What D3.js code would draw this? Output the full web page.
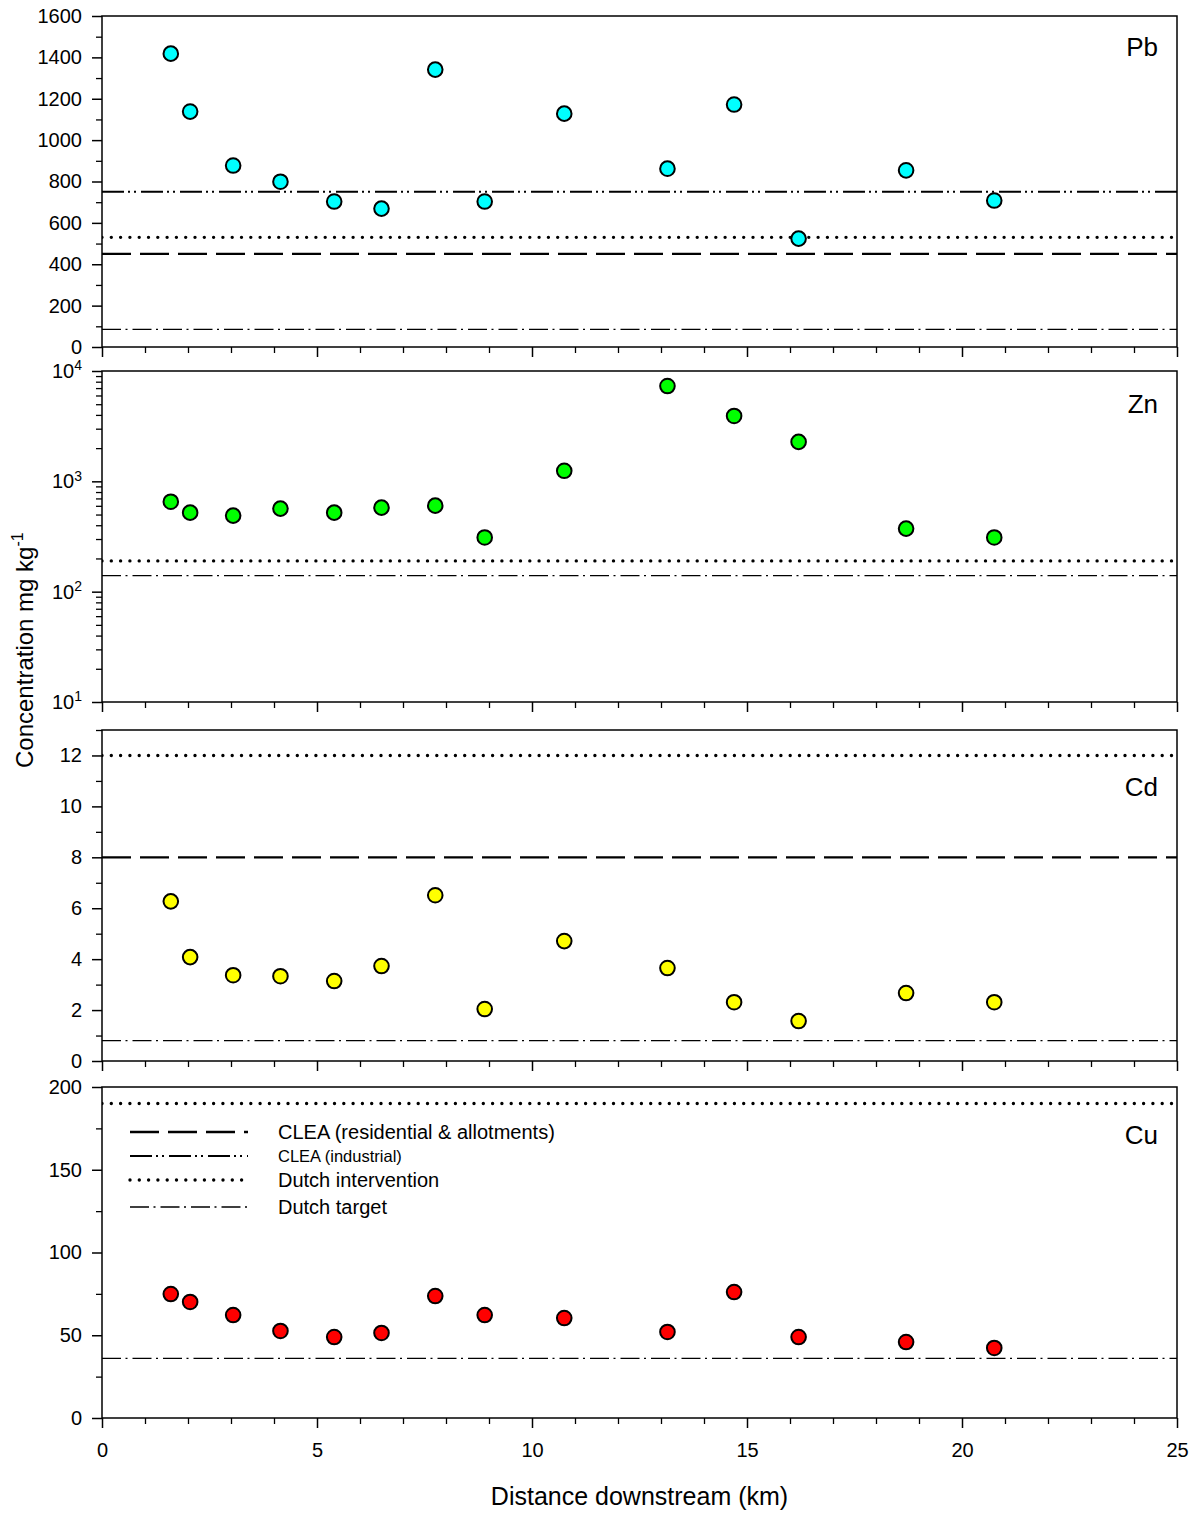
<!DOCTYPE html>
<html>
<head>
<meta charset="utf-8">
<script src="https://cdn.jsdelivr.net/npm/d3@7"></script>
<style>
  html, body { margin: 0; padding: 0; background: #fff; }
  text { font-family: "Liberation Sans", Arial, sans-serif; fill: #000; }
</style>
</head>
<body>
<svg id="chart" width="1201" height="1513"></svg>
<script>
// ---------------- DATA ----------------
const distance = [1.6, 2.05, 3.05, 4.15, 5.4, 6.5, 7.75, 8.9, 10.75, 13.15, 14.7, 16.2, 18.7, 20.75];
const pb = [1418, 1138, 877, 799, 703, 669, 1341, 703, 1128, 862, 1172, 524, 854, 708];
const zn = [654, 520, 489, 566, 520, 578, 602, 310, 1247, 7310, 3915, 2278, 373, 310];
const cd = [6.27, 4.08, 3.37, 3.33, 3.14, 3.73, 6.51, 2.04, 4.71, 3.65, 2.31, 1.57, 2.67, 2.31];
const cu = [74.9, 70.1, 62.2, 52.6, 48.9, 51.4, 73.7, 62.2, 60.4, 52.0, 76.1, 48.9, 45.9, 42.3];

const metals = ["Pb", "Zn", "Cd", "Cu"];
const guideNames = ["CLEA (residential & allotments)", "CLEA (industrial)", "Dutch intervention", "Dutch target"];
// guideline values per metal, in guideNames order (null = not shown)
const pbGuides = [450, 750, 530, 85];
const znGuides = [null, null, 190, 140];
const cdGuides = [8, null, 12, 0.8];
const cuGuides = [null, null, 190, 36];

const xTicks = [0, 5, 10, 15, 20, 25];
const pbTicks = [0, 200, 400, 600, 800, 1000, 1200, 1400, 1600];
const znTicks = [10, 100, 1000, 10000];
const cdTicks = [0, 2, 4, 6, 8, 10, 12];
const cuTicks = [0, 50, 100, 150, 200];

// ---------------- LAYOUT / STYLE ----------------
const svg = d3.select("#chart");
const left = 102, right = 1177;
const x = d3.scaleLinear().domain([0, 25]).range([left, right]);

const panelTop = [16, 371, 730, 1087];
const panelH = 331;
const labelOffset = [40, 42, 66, 57];
const colors = ["#00ffff", "#00ff00", "#ffff00", "#ff0000"];

const guideStyles = [
  { width: 2.3, dash: "29 9", cap: "butt" },
  { width: 2.0, dash: "22 4 2 4 2 5", cap: "butt" },
  { width: 3.4, dash: "0 9.3", cap: "round" },
  { width: 1.3, dash: "19 4.5 2 5", cap: "butt" }
];

const panelData = [
  { name: metals[0], values: pb, guides: pbGuides, type: "linear", domain: [0, 1600], major: pbTicks, minorStep: 100 },
  { name: metals[1], values: zn, guides: znGuides, type: "log", domain: [10, 10000], major: znTicks },
  { name: metals[2], values: cd, guides: cdGuides, type: "linear", domain: [0, 13], major: cdTicks, minorStep: 1 },
  { name: metals[3], values: cu, guides: cuGuides, type: "linear", domain: [0, 200], major: cuTicks, minorStep: 25 }
];

panelData.forEach((p, i) => {
  const top = panelTop[i], bottom = top + panelH;
  const y = (p.type === "log" ? d3.scaleLog() : d3.scaleLinear()).domain(p.domain).range([bottom, top]);
  const g = svg.append("g");

  // clip
  const clipId = "clip" + i;
  svg.append("clipPath").attr("id", clipId).append("rect")
    .attr("x", left).attr("y", top).attr("width", right - left).attr("height", panelH);

  // minor y ticks
  let minor = [];
  if (p.type === "log") {
    for (let d = 10; d < 10000; d *= 10) for (let k = 2; k <= 9; k++) minor.push(d * k);
  } else {
    for (let v = p.domain[0]; v <= p.domain[1] + 1e-9; v += p.minorStep) {
      if (!p.major.some(m => Math.abs(m - v) < 1e-9)) minor.push(v);
    }
  }
  g.append("g").attr("transform", `translate(${left},0)`)
    .call(d3.axisLeft(y).tickValues(minor).tickSize(6).tickFormat(""))
    .call(a => a.select(".domain").remove())
    .call(a => a.selectAll("line").attr("stroke-width", 1.3));

  // major y ticks
  const yAxis = d3.axisLeft(y).tickValues(p.major).tickSize(10).tickPadding(10)
    .tickFormat(p.type === "log" ? () => "" : d3.format("d"));
  const ya = g.append("g").attr("transform", `translate(${left},0)`).call(yAxis);
  ya.select(".domain").remove();
  ya.selectAll("line").attr("stroke-width", 1.5);
  ya.selectAll("text").style("font-size", "20px").attr("font-family", null);
  if (p.type === "log") {
    ya.selectAll(".tick text").each(function(d) {
      const t = d3.select(this);
      const e = Math.round(Math.log10(d));
      t.text(null);
      t.append("tspan").text("10");
      t.append("tspan").attr("dy", "-0.55em").style("font-size", "14px").text(String(e));
    });
  }

  // x ticks
  const xMinor = d3.range(0, 26).filter(v => v % 5 !== 0);
  g.append("g").attr("transform", `translate(0,${bottom})`)
    .call(d3.axisBottom(x).tickValues(xMinor).tickSize(6).tickFormat(""))
    .call(a => a.select(".domain").remove())
    .call(a => a.selectAll("line").attr("stroke-width", 1.3));
  const xa = g.append("g").attr("transform", `translate(0,${bottom})`)
    .call(d3.axisBottom(x).tickValues(xTicks).tickSize(10).tickPadding(15)
      .tickFormat(i === 3 ? d3.format("d") : ""));
  xa.select(".domain").remove();
  xa.selectAll("line").attr("stroke-width", 1.5);
  xa.selectAll("text").style("font-size", "20px").attr("font-family", null);

  // guidelines
  const gl = g.append("g").attr("clip-path", `url(#${clipId})`);
  p.guides.forEach((v, k) => {
    if (v === null) return;
    const s = guideStyles[k];
    gl.append("line")
      .attr("x1", left).attr("x2", right)
      .attr("y1", y(v)).attr("y2", y(v))
      .attr("stroke", "#000").attr("stroke-width", s.width)
      .attr("stroke-dasharray", s.dash).attr("stroke-linecap", s.cap);
  });

  // frame
  g.append("rect").attr("x", left).attr("y", top).attr("width", right - left).attr("height", panelH)
    .attr("fill", "none").attr("stroke", "#000").attr("stroke-width", 1.5);

  // points
  g.append("g").selectAll("circle").data(p.values).join("circle")
    .attr("cx", (d, j) => x(distance[j]))
    .attr("cy", d => y(d))
    .attr("r", 7.3)
    .attr("fill", colors[i])
    .attr("stroke", "#000").attr("stroke-width", 2);

  // panel label
  g.append("text").attr("x", 1158).attr("y", top + labelOffset[i])
    .attr("text-anchor", "end").style("font-size", "26px").text(p.name);

  // legend in last panel
  if (i === 3) {
    const rows = [1132, 1156, 1180, 1207];
    const fs = [20, 16.5, 20, 20];
    const lg = g.append("g");
    guideNames.forEach((n, k) => {
      const s = guideStyles[k];
      lg.append("line").attr("x1", 130).attr("x2", 248).attr("y1", rows[k]).attr("y2", rows[k])
        .attr("stroke", "#000").attr("stroke-width", s.width)
        .attr("stroke-dasharray", s.dash).attr("stroke-linecap", s.cap);
      lg.append("text").attr("x", 278).attr("y", rows[k] + fs[k] * 0.37)
        .style("font-size", fs[k] + "px").text(n);
    });
  }
});

// axis titles
svg.append("text").attr("x", (left + right) / 2).attr("y", 1505)
  .attr("text-anchor", "middle").style("font-size", "25px").text("Distance downstream (km)");

const yt = svg.append("text").attr("transform", "translate(33,768) rotate(-90)")
  .attr("text-anchor", "start").style("font-size", "24px");
yt.append("tspan").text("Concentration mg kg");
yt.append("tspan").attr("dy", "-0.6em").style("font-size", "16px").text("-1");
</script>
</body>
</html>
